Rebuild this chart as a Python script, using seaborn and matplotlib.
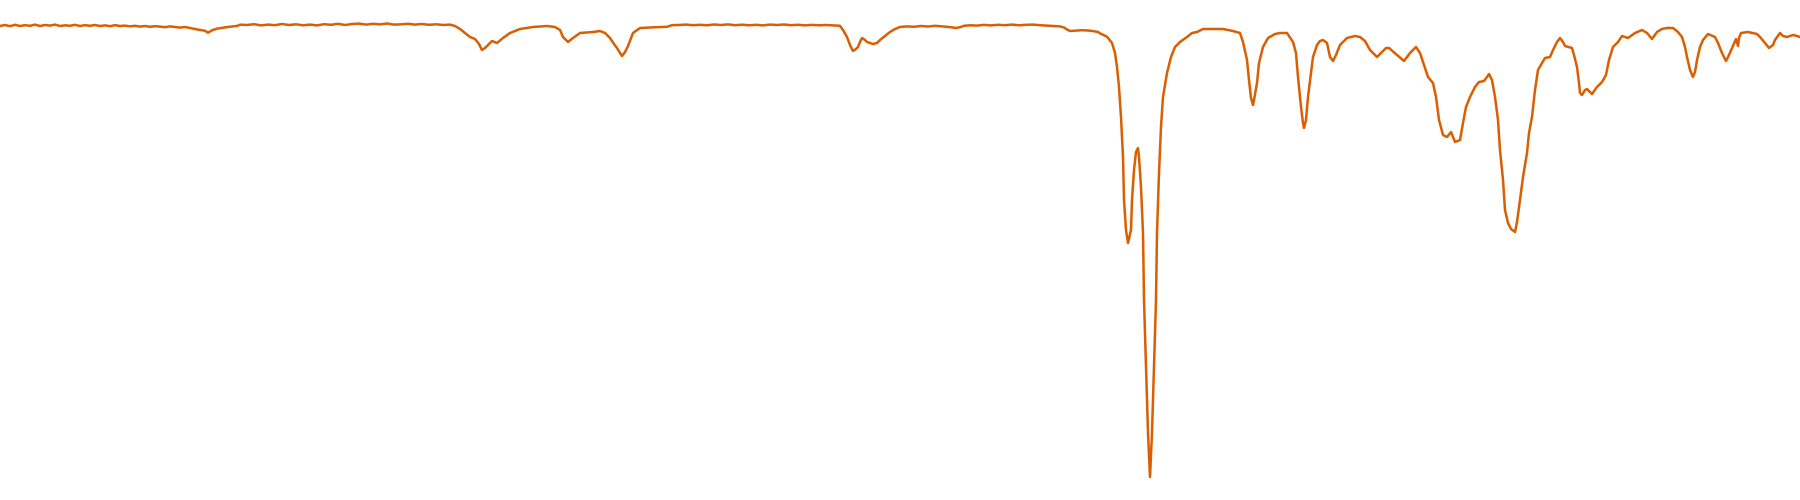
import matplotlib
matplotlib.use("Agg")
import matplotlib.pyplot as plt
import pandas as pd
import seaborn as sns

# Trace, one pair of lists per stretch of the spectrum.
# x is the position along the axis, y the depth of the signal (0 = top).
flat_left_x = [0, 5, 10, 15, 20, 25, 30, 35, 40, 45, 50, 55, 60, 65, 70, 75, 80, 85, 90, 95,
               100, 105, 110, 115, 120, 125, 130, 135, 140, 145, 150, 155, 160, 165, 170, 175, 180, 185, 190, 195,
               200, 205, 208, 212, 217, 223, 230, 237, 240]
flat_left_y = [26, 25, 26.2, 24.8, 26, 25.2, 25.8, 24.6, 26, 25, 25.6, 24.6, 26, 25.3, 25.8, 24.8, 26, 25.2, 25.8, 25,
               26, 25.4, 26.2, 25.2, 26, 25.6, 26.4, 25.8, 26.6, 26, 26.8, 26.2, 26.6, 27.2, 26.4, 27, 27.6, 27, 28, 29,
               30, 30.7, 32.7, 30.3, 28.7, 27.7, 26.7, 26, 24.7]

flat_mid_x = [247, 254, 261, 268, 275, 282, 289, 296, 303, 310, 317, 324, 331, 338, 345, 352, 359, 366, 373, 380,
              387, 394, 401, 408, 415, 422, 429, 436, 443, 450]
flat_mid_y = [25, 24.2, 25.4, 24.6, 25.2, 24, 25, 24.3, 25.3, 24.6, 25.4, 24.2, 24.8, 23.8, 25, 24, 23.6, 24.6, 23.8, 24.4,
              23.5, 24.6, 24.3, 23.8, 24.6, 24, 24.8, 24.3, 25, 24.6]

bands_a_x = [455, 460, 465, 470, 475, 479, 482, 485, 488, 492, 497, 503, 510, 520, 533, 547, 555, 560, 563, 568,
             573, 580, 593, 600, 605, 610, 614, 617, 620, 622, 625, 628, 633, 640]
bands_a_y = [26, 29, 33, 37, 39, 44, 50, 48, 45, 41, 43, 38, 33, 29, 27, 26, 27, 30, 37, 42,
             38, 33, 32, 31, 33, 38, 44, 48, 53, 56, 52, 46, 33, 28]

flat_b_x = [647, 654, 661, 667, 672, 679, 686, 693, 700, 707, 714, 721, 728, 735, 742, 749, 756, 763, 770, 777,
            784, 791, 798, 805, 812, 819, 826, 833, 840]
flat_b_y = [27.6, 27.3, 27, 26.8, 25.2, 25, 24.6, 25.2, 24.8, 25.3, 24.5, 25, 24.4, 25.2, 24.7, 25.3, 24.8, 25.4, 24.6, 25,
            24.5, 25.2, 24.8, 25.4, 24.9, 25.3, 25, 25.4, 25.8]

bands_b_x = [843, 847, 850, 853, 856, 858, 860, 862, 865, 867, 870, 873, 877, 880, 885, 890, 895, 900]
bands_b_y = [30, 37, 45, 51, 49, 47, 42, 38, 40, 42, 43, 44, 43, 40, 36, 32, 29, 27]

flat_c_x = [907, 914, 921, 928, 935, 942, 949, 956, 960, 964, 970, 977, 984, 991, 998, 1005, 1012, 1019, 1026, 1033,
            1040, 1047, 1054, 1060, 1064, 1067, 1070, 1076, 1082, 1088, 1094, 1098]
flat_c_y = [26.4, 26.8, 26, 26.5, 25.8, 26.4, 27, 28, 27.2, 25.8, 25.3, 25.6, 24.9, 25.4, 24.8, 25.2, 24.6, 25.3, 24.8, 24.6,
            25.2, 25.6, 26, 26.4, 27.5, 29.5, 31, 30.6, 30.2, 30.5, 31.2, 32]

strong_x = [1100, 1107, 1112, 1115, 1117, 1119, 1121, 1123, 1124, 1126, 1128, 1131, 1132, 1134, 1136, 1138, 1139, 1141, 1143, 1144,
            1146, 1148, 1150, 1152, 1154, 1156, 1157, 1159, 1161, 1163, 1167, 1171, 1175, 1180, 1187, 1192, 1197, 1203, 1213, 1223,
            1233, 1240, 1243, 1247, 1249, 1251, 1253, 1254, 1257, 1259, 1263, 1268, 1275, 1280, 1287]
strong_y = [33.3, 36.7, 43, 53, 67, 87, 117, 157, 200, 230, 243, 230, 200, 170, 152, 148, 157, 187, 233, 300,
            367, 433, 477, 433, 367, 300, 233, 173, 127, 97, 73, 57, 47, 42, 37, 33, 32, 29, 29, 29,
            31, 33, 42, 60, 80, 98, 105, 100, 83, 63, 47, 38, 34, 33, 33]

finger_a_x = [1293, 1296, 1298, 1301, 1303, 1304, 1306, 1308, 1311, 1313, 1317, 1320, 1323, 1327, 1330, 1333, 1336, 1340, 1347, 1355,
              1360, 1365, 1370, 1377, 1382, 1386, 1389, 1397, 1404, 1410, 1416, 1420, 1425, 1428, 1433, 1436, 1439, 1443, 1447, 1451,
              1453, 1455, 1460, 1463, 1466, 1470, 1475, 1479, 1484, 1487, 1489, 1492, 1495, 1498]
finger_a_y = [42, 53, 77, 107, 123, 128, 120, 97, 73, 57, 45, 41, 40, 43, 57, 61, 55, 45, 38, 36,
              37, 41, 50, 57, 52, 48, 48, 55, 61, 53, 47, 53, 68, 77, 83, 97, 120, 135, 137, 132,
              137, 142, 140, 123, 107, 97, 87, 82, 81, 77, 74, 80, 97, 120]

finger_b_x = [1500, 1503, 1505, 1508, 1511, 1515, 1517, 1520, 1523, 1527, 1529, 1532, 1535, 1538, 1542, 1545, 1550, 1553, 1557, 1560,
              1563, 1565, 1572, 1574, 1577, 1579, 1580, 1582, 1585, 1587, 1592, 1597, 1602, 1606, 1609, 1613, 1618, 1622, 1628, 1635,
              1642, 1647, 1652, 1657, 1662, 1667, 1673, 1678, 1682, 1685, 1687, 1690, 1693, 1695, 1697, 1700, 1703, 1708, 1715, 1718,
              1722, 1726, 1729, 1733, 1736, 1738, 1739, 1741, 1748, 1757, 1760, 1765, 1769, 1773, 1775, 1780, 1783, 1787, 1790, 1793,
              1797, 1800]
finger_b_y = [150, 180, 210, 223, 229, 232, 222, 200, 177, 153, 133, 117, 90, 70, 63, 58, 57, 50, 42, 38,
              42, 46, 48, 55, 67, 83, 93, 95, 90, 89, 94, 87, 82, 75, 60, 47, 42, 36, 38, 33,
              30, 33, 39, 32, 29, 28, 28, 32, 37, 47, 57, 70, 77, 72, 60, 47, 40, 34, 37, 43,
              53, 61, 55, 46, 39, 46, 38, 33, 32, 34, 37, 43, 48, 45, 40, 33, 36, 37, 36, 35,
              36, 37]

pieces = [(flat_left_x, flat_left_y), (flat_mid_x, flat_mid_y), (bands_a_x, bands_a_y),
          (flat_b_x, flat_b_y), (bands_b_x, bands_b_y), (flat_c_x, flat_c_y),
          (strong_x, strong_y), (finger_a_x, finger_a_y), (finger_b_x, finger_b_y)]
df = pd.concat([pd.DataFrame({"position": xs, "depth": ys}) for xs, ys in pieces], ignore_index=True)

sns.set_style("white")
fig = plt.figure(figsize=(18, 5), dpi=100)
ax = fig.add_axes([0, 0, 1, 1])

sns.lineplot(data=df, x="position", y="depth", ax=ax, color="#d95f02",
             linewidth=1.8, estimator=None, sort=False,
             solid_joinstyle="round", solid_capstyle="round")

ax.set_xlim(0, 1800)
ax.set_ylim(500, 0)
ax.set_axis_off()

fig.savefig("out.png", dpi=100)
